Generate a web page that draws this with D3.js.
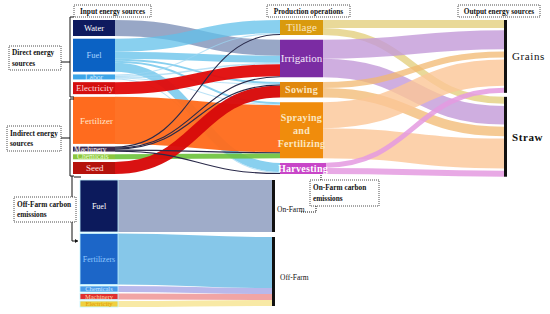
<!DOCTYPE html>
<html><head><meta charset="utf-8">
<script src="https://cdn.jsdelivr.net/npm/d3@7"></script>
<style>
body{margin:0;background:#fff}
svg{display:block}
text{font-family:"Liberation Serif","DejaVu Serif","Times New Roman",serif}
</style>
</head><body>
<svg id="c" width="550" height="314" font-family="'Liberation Serif', 'DejaVu Serif', serif"></svg>
<script>
// ---------------- DATA ----------------
const inputs = ["Water","Fuel","Labor","Electricity","Fertilizer","Machinery","Chemicals","Seed"];
const operations = ["Tillage","Irrigation","Sowing","Spraying and Fertilizing","Harvesting"];
const outputs = ["Grains","Straw"];
// input -> operation energy flows (rows: inputs, columns: operations)
const inputFlows = [
  [0, 16, 0, 0, 0],
  [13, 7, 2, 2, 9],
  [1, 1.5, 0.5, 1, 1],
  [0, 12, 0, 0, 0],
  [0, 0, 0, 47, 0],
  [1, 1, 1, 1, 1],
  [0, 0, 0, 5, 0],
  [0, 0, 12, 0, 0]
];
// operation -> output flows (rows: operations, columns: outputs)
const outputFlows = [
  [8, 7],
  [19, 18.5],
  [6, 9.5],
  [26, 30],
  [5, 6]
];
const offFarmSources = ["Fuel","Fertilizers","Chemicals","Machinery","Electricity"];
const carbonSinks = ["On-Farm","Off-Farm"];
const carbonFlows = [[52,0],[0,51],[0,6],[0,6],[0,6]];

// ---------------- STYLES ----------------
const inputColor = {Water:"#0e1a5e",Fuel:"#0b62c4",Labor:"#3ea6e8",Electricity:"#d40f0f",Fertilizer:"#ff6b1e",Machinery:"#3b2a4e",Chemicals:"#8cc63f",Seed:"#b5120c"};
const inputLink = {Water:["#8d9dc0",0.9],Fuel:["#62c0ea",0.75],Labor:["#9dd6f2",0.7],Electricity:["#e00a0a",0.95],Fertilizer:["#ff6a1a",0.95],Machinery:["#2a2a4a",1],Chemicals:["#6cc23a",0.9],Seed:["#d80a0a",0.97]};
const inputText = {Water:"#ffffff",Fuel:"#a8d4ff",Labor:"#d8eeff",Electricity:"#ffd6d6",Fertilizer:"#ffe6cc",Machinery:"#ffffff",Chemicals:"#eaffd0",Seed:"#ffe0e0"};
const opColor = {"Tillage":"#d99a0e","Irrigation":"#7b2ca3","Sowing":"#e0880e","Spraying and Fertilizing":"#f08c0c","Harvesting":"#c846c8"};
const opLink = {"Tillage":["#e3cf80",0.8],"Irrigation":["#c39ad8",0.8],"Sowing":["#f2b870",0.75],"Spraying and Fertilizing":["#fbc596",0.8],"Harvesting":["#e49ae0",0.85]};
const cColor = {Fuel:"#0c1a5c",Fertilizers:"#1c66c8",Chemicals:"#4a9ae8",Machinery:"#e03030",Electricity:"#f0d040"};
const cLink = {Fuel:"#9aa8c6",Fertilizers:"#80c4e8",Chemicals:"#b4b4ea",Machinery:"#f0a0a0",Electricity:"#f8e8a0"};
const cText = {Fuel:"#ffffff",Fertilizers:"#8ec8ff",Chemicals:"#d0e8ff",Machinery:"#ffd8a0",Electricity:"#e09a00"};

const svg = d3.select("#c");

// ---------------- LAYOUT HELPERS ----------------
function column(names, values, x0, x1, y0, span, pad, k){
  let y = y0;
  return names.map((n,i)=>{
    const h = k(values[i]);
    const node = {name:n, i, x0, x1, y0:y, y1:y+h};
    y += h + pad;
    return node;
  });
}
function buildLinks(src, tgt, matrix, k, gapT){
  const links = [];
  matrix.forEach((row,i)=>row.forEach((v,j)=>{ if(v>0) links.push({s:src[i], t:tgt[j], v, w:k(v)}); }));
  src.forEach(n=>{ let y=n.y0; links.filter(l=>l.s===n).sort((a,b)=>a.t.i-b.t.i).forEach(l=>{l.ys=y+l.w/2; y+=l.w;}); });
  tgt.forEach(n=>{ let y=n.y0; links.filter(l=>l.t===n).sort((a,b)=>a.s.i-b.s.i).forEach(l=>{l.yt=y+l.w/2; y+=l.w+(gapT||0);}); });
  return links;
}
const linkGen = d3.linkHorizontal().source(d=>[d.s.x1,d.ys]).target(d=>[d.t.x0,d.yt]);

// ---------------- TOP SANKEY ----------------
const inVals = inputFlows.map(r=>d3.sum(r));
const opVals = outputFlows.map(r=>d3.sum(r));
const outVals = outputs.map((o,j)=>d3.sum(outputFlows,r=>r[j]));
const topY0 = 20, topSpan = 154;
const padL = 2.7;
const k = d3.scaleLinear().domain([0, d3.sum(inVals)]).range([0, topSpan - padL*(inputs.length-1)]);
const padM = (topSpan - k(d3.sum(opVals)))/(operations.length-1);
const gapR = 2.2;

const inNodes = column(inputs, inVals, 73, 115, topY0, topSpan, padL, k);
const opNodes = column(operations, opVals, 280, 323, topY0, topSpan, padM, k);
const outNodes = [];
{ let y = topY0; outputs.forEach((o,j)=>{ const h = k(outVals[j]) + gapR*(operations.length-1); outNodes.push({name:o,i:j,x0:504,x1:507,y0:y,y1:y+h}); y += h + 4; }); }

const l1 = buildLinks(inNodes, opNodes, inputFlows, k, 0);
const l2 = buildLinks(opNodes, outNodes, outputFlows, k, gapR);

const drawOrder = ["Water","Fuel","Labor","Fertilizer","Chemicals","Electricity","Seed","Machinery"];
const gL = svg.append("g").attr("fill","none");
gL.selectAll("path.l2").data(l2).join("path").attr("class","l2")
  .attr("d",linkGen).attr("stroke",d=>opLink[d.s.name][0]).attr("stroke-opacity",d=>opLink[d.s.name][1])
  .attr("stroke-width",d=>Math.max(1,d.w));
gL.selectAll("path.l1").data(l1.slice().sort((a,b)=>drawOrder.indexOf(a.s.name)-drawOrder.indexOf(b.s.name)))
  .join("path").attr("class","l1")
  .attr("d",linkGen).attr("stroke",d=>inputLink[d.s.name][0]).attr("stroke-opacity",d=>inputLink[d.s.name][1])
  .attr("stroke-width",d=>d.s.name==="Machinery"?1.1:Math.max(1,d.w));

// input nodes
svg.append("g").selectAll("rect").data(inNodes).join("rect")
  .attr("x",d=>d.x0).attr("y",d=>d.y0).attr("width",d=>d.x1-d.x0).attr("height",d=>d.y1-d.y0)
  .attr("fill",d=>inputColor[d.name]);
const leftAligned = {Electricity:[3,9],Fertilizer:[7,9],Machinery:[1,7.5],Chemicals:[4,7.5],Seed:[13,9]};
svg.append("g").selectAll("text").data(inNodes).join("text")
  .attr("x",d=>leftAligned[d.name]? d.x0+leftAligned[d.name][0] : (d.x0+d.x1)/2)
  .attr("y",d=>(d.y0+d.y1)/2).attr("dy","0.35em")
  .attr("text-anchor",d=>leftAligned[d.name]?"start":"middle")
  .attr("font-size",d=>leftAligned[d.name]?leftAligned[d.name][1]:(d.name==="Labor"?7.5:8.5))
  .attr("fill",d=>inputText[d.name]).text(d=>d.name);

// operation nodes
svg.append("g").selectAll("rect").data(opNodes).join("rect")
  .attr("x",d=>d.x0).attr("y",d=>d.y0).attr("width",d=>d.name==="Harvesting"?(d.x1-d.x0+3):(d.x1-d.x0)).attr("height",d=>d.y1-d.y0)
  .attr("fill",d=>opColor[d.name]);
const opG = svg.append("g");
opNodes.forEach(d=>{
  const cx=(d.x0+d.x1)/2, cy=(d.y0+d.y1)/2;
  const lines = d.name==="Spraying and Fertilizing" ? ["Spraying","and","Fertilizing"] : [d.name];
  const bold = !(d.name==="Tillage"||d.name==="Irrigation");
  const fs = bold?10:11;
  lines.forEach((t,i)=>{
    opG.append("text").attr("x",cx+(d.name==="Harvesting"?1.5:0)).attr("y",cy+(i-(lines.length-1)/2)*13).attr("dy","0.35em")
      .attr("text-anchor","middle").attr("font-size",fs).attr("font-weight",bold?"bold":"normal")
      .attr("letter-spacing",bold?0.3:0)
      .attr("fill",d.name==="Irrigation"?"#f2e4fa":(d.name==="Harvesting"?"#ffffff":"#fbe6c0")).text(t);
  });
});

// output nodes (bars) + labels
svg.append("g").selectAll("rect").data(outNodes).join("rect")
  .attr("x",d=>d.x0).attr("y",d=>d.y0).attr("width",d=>d.x1-d.x0).attr("height",d=>d.y1-d.y0).attr("fill","#111");
svg.append("g").selectAll("text").data(outNodes).join("text")
  .attr("x",d=>d.x1+5).attr("y",d=>(d.y0+d.y1)/2).attr("dy","0.35em")
  .attr("font-size",11).attr("font-weight",d=>d.name==="Straw"?"bold":"normal").attr("letter-spacing",0.6)
  .attr("fill","#111").text(d=>d.name);

// ---------------- BOTTOM (carbon) SANKEY ----------------
const cVals = carbonFlows.map(r=>d3.sum(r));
const sVals = carbonSinks.map((s,j)=>d3.sum(carbonFlows,r=>r[j]));
const botY0 = 180;
const kc = d3.scaleLinear().domain([0, d3.sum(cVals)]).range([0, 121]);
const cNodes = column(offFarmSources, cVals, 80, 118, botY0, 127, 1.5, kc);
const sNodes = column(carbonSinks, sVals, 272, 275, botY0, 128, 5, kc);
const l3 = buildLinks(cNodes, sNodes, carbonFlows, kc, 0);
svg.append("g").attr("fill","none").selectAll("path").data(l3).join("path")
  .attr("d",linkGen).attr("stroke",d=>cLink[d.s.name]).attr("stroke-opacity",0.95).attr("stroke-width",d=>d.w);
svg.append("g").selectAll("rect").data(cNodes).join("rect")
  .attr("x",d=>d.x0).attr("y",d=>d.y0).attr("width",d=>d.x1-d.x0).attr("height",d=>d.y1-d.y0)
  .attr("fill",d=>cColor[d.name]).attr("stroke","#c4f6ff").attr("stroke-width",0.8);
svg.append("g").selectAll("text").data(cNodes).join("text")
  .attr("x",d=>(d.x0+d.x1)/2).attr("y",d=>(d.y0+d.y1)/2).attr("dy","0.35em").attr("text-anchor","middle")
  .attr("font-size",d=>d.y1-d.y0>20?8:6.5).attr("fill",d=>cText[d.name]).text(d=>d.name);
svg.append("g").selectAll("rect").data(sNodes).join("rect")
  .attr("x",d=>d.x0).attr("y",d=>d.y0).attr("width",d=>d.x1-d.x0).attr("height",d=>d.y1-d.y0).attr("fill","#111");
svg.append("g").selectAll("text").data(sNodes).join("text")
  .attr("x",d=>d.x1+(d.name==="On-Farm"?2:5)).attr("y",d=>(d.y0+d.y1)/2+(d.name==="On-Farm"?3:6)).attr("dy","0.35em")
  .attr("font-size",7.5).attr("fill","#111").text(d=>d.name);

// ---------------- ANNOTATIONS ----------------
const ann = svg.append("g");
function box(x,y,w,h,lines,anchor){
  ann.append("rect").attr("x",x).attr("y",y).attr("width",w).attr("height",h)
    .attr("fill","#fff").attr("stroke","#222").attr("stroke-width",0.8).attr("stroke-dasharray","1,1");
  lines.forEach((t,i)=>{
    ann.append("text").attr("x",anchor==="middle"?x+w/2:x+3).attr("y",y+h/2+(i-(lines.length-1)/2)*10.5).attr("dy","0.35em")
      .attr("text-anchor",anchor).attr("font-size",7.3).attr("font-weight","bold").attr("fill","#111").text(t);
  });
}
const line = (pts,dash)=>ann.append("path").attr("d",d3.line()(pts)).attr("fill","none").attr("stroke","#111")
  .attr("stroke-width",1).attr("stroke-dasharray",dash||null);

// brackets
line([[74,17],[70,17],[70,97],[74,97]]);
line([[70,62],[61,62]]);
line([[74,99],[70,99],[70,176],[74,176]]);
line([[70,138],[61,138]]);
line([[72,176],[72,241],[78,241]]);
ann.append("path").attr("d","M78,241 l-3,-2 v4 z").attr("fill","#111");
line([[74,177],[81,177]]);

box(74,5,77,12,["Input energy sources"],"middle");
box(267,5,83,12,["Production operations"],"middle");
box(458,5,82,12,["Output energy sources"],"middle");
box(9,46,52,24,["Direct energy","sources"],"start");
box(7,126,54,25,["Indirect energy","sources"],"start");
box(14,197,62,25,["Off-Farm carbon","emissions"],"start");
box(310,180,69,26,["On-Farm carbon","emissions"],"start");
// on-farm connector
line([[301,212],[316,212],[316,206]],"1,1");
line([[321,175],[321,180]],"1,1");
</script>
</body></html>
